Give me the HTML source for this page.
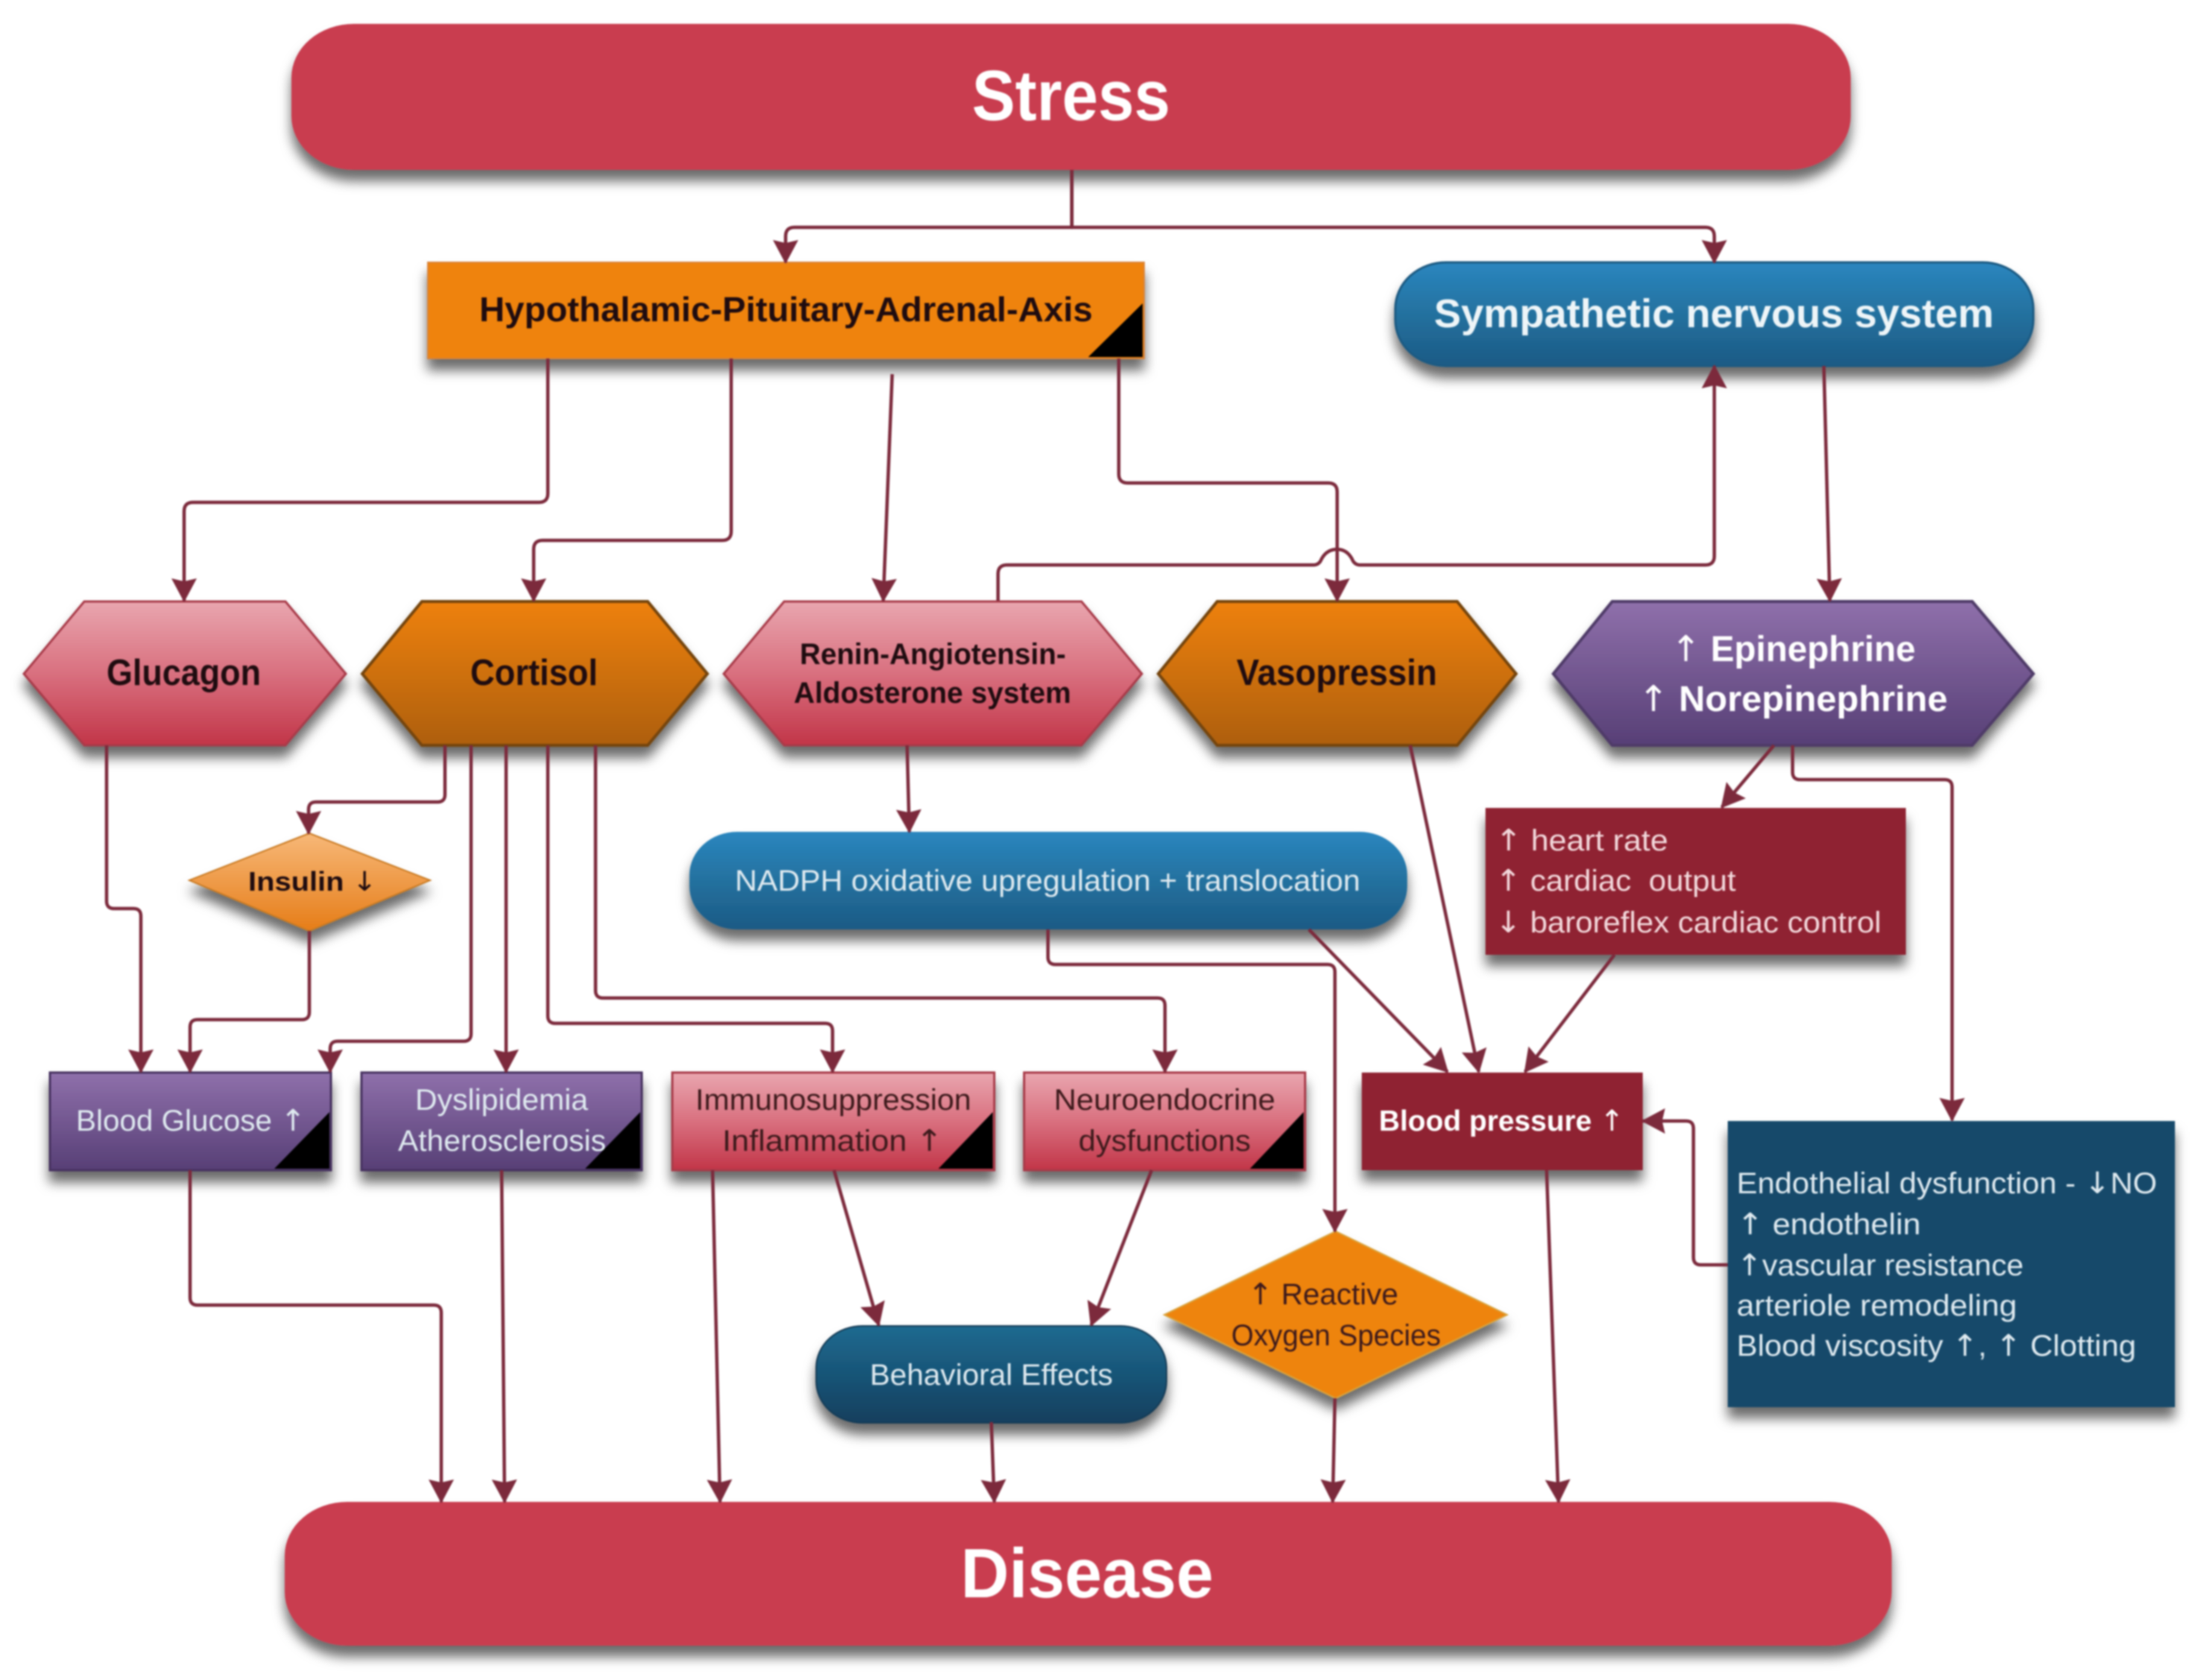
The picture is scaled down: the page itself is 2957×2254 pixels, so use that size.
<!DOCTYPE html>
<html><head><meta charset="utf-8"><title>Stress and Disease</title>
<style>
html,body{margin:0;padding:0;background:#fff;width:2957px;height:2254px;overflow:hidden}
svg{display:block;filter:blur(1.1px)}
text{font-family:"Liberation Sans","DejaVu Sans",sans-serif}
.b{font-weight:bold}
.w{fill:#fff}
.l{fill:#dfeaf0}
.d{fill:#1f0c10}
.c{fill:#f3d9dc}
.m{fill:#3d1a1c}
.ar{font-family:"DejaVu Sans",sans-serif;font-weight:normal}
</style></head><body>
<svg xmlns="http://www.w3.org/2000/svg" width="2957" height="2254" viewBox="0 0 2957 2254">
<defs>
<filter id="s" x="-10%" y="-20%" width="120%" height="150%"><feDropShadow dx="0" dy="15" stdDeviation="8" flood-color="#000" flood-opacity=".58"/></filter>
<linearGradient id="gBlue" x1="0" y1="0" x2="0" y2="1"><stop offset="0" stop-color="#2a86bf"/><stop offset=".5" stop-color="#24719f"/><stop offset="1" stop-color="#1b5a85"/></linearGradient>
<linearGradient id="gBeh" x1="0" y1="0" x2="0" y2="1"><stop offset="0" stop-color="#1e6a90"/><stop offset="1" stop-color="#123f5e"/></linearGradient>
<linearGradient id="gPink" x1="0" y1="0" x2="0" y2="1"><stop offset="0" stop-color="#e9a6af"/><stop offset=".5" stop-color="#d9707f"/><stop offset="1" stop-color="#c23548"/></linearGradient>
<linearGradient id="gOr" x1="0" y1="0" x2="0" y2="1"><stop offset="0" stop-color="#ee8110"/><stop offset="1" stop-color="#ae5f08"/></linearGradient>
<linearGradient id="gPur" x1="0" y1="0" x2="0" y2="1"><stop offset="0" stop-color="#8f70ab"/><stop offset="1" stop-color="#573f76"/></linearGradient>
<linearGradient id="gIns" x1="0" y1="0" x2="0" y2="1"><stop offset="0" stop-color="#f7b878"/><stop offset="1" stop-color="#e67d18"/></linearGradient>
<marker id="a" markerUnits="userSpaceOnUse" markerWidth="40" markerHeight="40" refX="30" refY="17" orient="auto"><path d="M0 0 L32 17 L0 34 L4 17 Z" fill="#7c2a3c"/></marker>
</defs>

<!-- main shapes -->
<g filter="url(#s)">
<rect x="391" y="32" width="2092" height="196" rx="84" ry="72" fill="#c93c50"/>
<rect x="382" y="2015" width="2156" height="193" rx="84" ry="72" fill="#c93c50"/>
<rect x="574" y="352" width="961" height="129" fill="#ef830f" stroke="#d9843a" stroke-width="2"/>
<rect x="1872" y="352" width="856" height="139" rx="68" ry="62" fill="url(#gBlue)" stroke="#1d5a82" stroke-width="3"/>
<polygon points="32,904 113,807 383,807 464,904 383,1000 113,1000" fill="url(#gPink)" stroke="#a83a4a" stroke-width="3"/>
<polygon points="486,904 566,807 869,807 949,904 869,1000 566,1000" fill="url(#gOr)" stroke="#74440c" stroke-width="4"/>
<polygon points="971,904 1052,807 1451,807 1532,904 1451,1000 1052,1000" fill="url(#gPink)" stroke="#a83a4a" stroke-width="3"/>
<polygon points="1554,904 1633,807 1955,807 2034,904 1955,1000 1633,1000" fill="url(#gOr)" stroke="#74440c" stroke-width="4"/>
<polygon points="2084,904 2163,807 2646,807 2728,904 2646,1000 2163,1000" fill="url(#gPur)" stroke="#4f3a68" stroke-width="4"/>
<polygon points="254,1181 415,1118 577,1181 415,1249" fill="url(#gIns)" stroke="#c97a20" stroke-width="2"/>
<rect x="925" y="1116" width="963" height="131" rx="64" ry="58" fill="url(#gBlue)"/>
<rect x="1993" y="1084" width="564" height="197" fill="#8f2333"/>
<rect x="67" y="1439" width="377" height="131" fill="url(#gPur)" stroke="#463360" stroke-width="3"/>
<rect x="485" y="1439" width="376" height="131" fill="url(#gPur)" stroke="#463360" stroke-width="3"/>
<rect x="902" y="1439" width="432" height="131" fill="url(#gPink)" stroke="#a83a4a" stroke-width="3"/>
<rect x="1374" y="1439" width="377" height="131" fill="url(#gPink)" stroke="#a83a4a" stroke-width="3"/>
<rect x="1827" y="1439" width="377" height="131" fill="#8f2333"/>
<rect x="2318" y="1504" width="600" height="384" fill="#17496a"/>
<rect x="1095" y="1779" width="470" height="130" rx="62" ry="56" fill="url(#gBeh)" stroke="#123a55" stroke-width="2"/>
<polygon points="1562,1764 1792,1652 2022,1764 1792,1876" fill="#ee8410" stroke="#d9a23a" stroke-width="2"/>
</g>

<!-- black corners -->
<polygon points="1460,479 1533,407 1533,479" fill="#000"/>
<polygon points="368,1568 442,1492 442,1568" fill="#000"/>
<polygon points="785,1568 859,1492 859,1568" fill="#000"/>
<polygon points="1259,1568 1332,1492 1332,1568" fill="#000"/>
<polygon points="1677,1568 1749,1492 1749,1568" fill="#000"/>

<!-- connectors -->
<g fill="none" stroke="#7c2a3c" stroke-width="4.5" stroke-linejoin="round">
<path d="M1438 228 V305 H1066 Q1054 305 1054 317 V352" marker-end="url(#a)"/>
<path d="M1438 228 V305 H2288 Q2300 305 2300 317 V352" marker-end="url(#a)"/>
<path d="M735 481 V662 Q735 674 723 674 H259 Q247 674 247 686 V806" marker-end="url(#a)"/>
<path d="M981 481 V713 Q981 725 969 725 H728 Q716 725 716 737 V806" marker-end="url(#a)"/>
<path d="M1197 502 L1185 806" marker-end="url(#a)"/>
<path d="M1501 481 V636 Q1501 648 1513 648 H1782 Q1794 648 1794 660 V806" marker-end="url(#a)"/>
<path d="M1339 806 V770 Q1339 758 1351 758 H1762 Q1770 758 1773 750 Q1780 737 1794 737 Q1807 737 1814 750 Q1817 758 1825 758 H2288 Q2300 758 2300 746 V491" marker-end="url(#a)"/>
<path d="M2447 491 L2455 806" marker-end="url(#a)"/>
<path d="M143 1000 V1209 Q143 1219 153 1219 H179 Q189 1219 189 1229 V1438" marker-end="url(#a)"/>
<path d="M597 1000 V1066 Q597 1076 587 1076 H424 Q414 1076 414 1086 V1118" marker-end="url(#a)"/>
<path d="M415 1249 V1358 Q415 1368 405 1368 H265 Q255 1368 255 1378 V1438" marker-end="url(#a)"/>
<path d="M632 1000 V1387 Q632 1397 622 1397 H453 Q443 1397 443 1407 V1438" marker-end="url(#a)"/>
<path d="M679 1000 V1438" marker-end="url(#a)"/>
<path d="M735 1000 V1363 Q735 1373 745 1373 H1107 Q1117 1373 1117 1383 V1438" marker-end="url(#a)"/>
<path d="M799 1000 V1329 Q799 1339 809 1339 H1553 Q1563 1339 1563 1349 V1438" marker-end="url(#a)"/>
<path d="M1217 1000 L1220 1116" marker-end="url(#a)"/>
<path d="M1406 1247 V1284 Q1406 1294 1416 1294 H1781 Q1791 1294 1791 1304 V1652" marker-end="url(#a)"/>
<path d="M1756 1247 L1942 1438" marker-end="url(#a)"/>
<path d="M1892 1000 L1984 1438" marker-end="url(#a)"/>
<path d="M2380 1000 L2310 1083" marker-end="url(#a)"/>
<path d="M2405 1000 V1036 Q2405 1046 2415 1046 H2609 Q2619 1046 2619 1056 V1503" marker-end="url(#a)"/>
<path d="M2166 1281 L2046 1438" marker-end="url(#a)"/>
<path d="M2318 1697 H2282 Q2272 1697 2272 1687 V1514 Q2272 1504 2262 1504 H2204" marker-end="url(#a)"/>
<path d="M255 1570 V1741 Q255 1751 265 1751 H582 Q592 1751 592 1761 V2015" marker-end="url(#a)"/>
<path d="M673 1570 L677 2015" marker-end="url(#a)"/>
<path d="M956 1570 L966 2015" marker-end="url(#a)"/>
<path d="M1119 1570 L1179 1778" marker-end="url(#a)"/>
<path d="M1545 1570 L1464 1778" marker-end="url(#a)"/>
<path d="M1330 1908 L1334 2015" marker-end="url(#a)"/>
<path d="M1791 1876 L1788 2015" marker-end="url(#a)"/>
<path d="M2075 1570 L2091 2015" marker-end="url(#a)"/>
</g>

<!-- labels -->
<g>
<text class="b w" x="1304" y="161" font-size="96" textLength="266" lengthAdjust="spacingAndGlyphs">Stress</text>
<text class="b w" x="1289" y="2143" font-size="94" textLength="339" lengthAdjust="spacingAndGlyphs">Disease</text>
<text class="b d" x="643" y="431" font-size="46" textLength="823" lengthAdjust="spacingAndGlyphs">Hypothalamic-Pituitary-Adrenal-Axis</text>
<text class="b" fill="#eef5f8" x="1924" y="439" font-size="54" textLength="751" lengthAdjust="spacingAndGlyphs">Sympathetic nervous system</text>
<text class="b d" x="143" y="919" font-size="49" textLength="207" lengthAdjust="spacingAndGlyphs">Glucagon</text>
<text class="b d" x="631" y="919" font-size="49" textLength="171" lengthAdjust="spacingAndGlyphs">Cortisol</text>
<text class="b d" x="1073" y="891" font-size="40" textLength="357" lengthAdjust="spacingAndGlyphs">Renin-Angiotensin-</text>
<text class="b d" x="1065" y="943" font-size="40" textLength="372" lengthAdjust="spacingAndGlyphs">Aldosterone system</text>
<text class="b d" x="1659" y="919" font-size="49" textLength="269" lengthAdjust="spacingAndGlyphs">Vasopressin</text>
<text class="b w" x="2242" y="887" font-size="48" textLength="328" lengthAdjust="spacingAndGlyphs"><tspan class="ar">↑</tspan> Epinephrine</text>
<text class="b w" x="2198" y="954" font-size="48" textLength="415" lengthAdjust="spacingAndGlyphs"><tspan class="ar">↑</tspan> Norepinephrine</text>
<text class="b d" x="333" y="1195" font-size="36" textLength="173" lengthAdjust="spacingAndGlyphs">Insulin <tspan class="ar">↓</tspan></text>
<text class="l" x="986" y="1195" font-size="40" textLength="839" lengthAdjust="spacingAndGlyphs">NADPH oxidative upregulation + translocation</text>
<text class="c" x="2006" y="1141" font-size="40" textLength="232" lengthAdjust="spacingAndGlyphs"><tspan class="ar">↑</tspan> heart rate</text>
<text class="c" x="2006" y="1195" font-size="40" textLength="323" lengthAdjust="spacingAndGlyphs" xml:space="preserve"><tspan class="ar">↑</tspan> cardiac  output</text>
<text class="c" x="2006" y="1251" font-size="40" textLength="518" lengthAdjust="spacingAndGlyphs"><tspan class="ar">↓</tspan> baroreflex cardiac control</text>
<text class="l" x="102" y="1517" font-size="40" textLength="308" lengthAdjust="spacingAndGlyphs">Blood Glucose <tspan class="ar">↑</tspan></text>
<text class="l" x="557" y="1489" font-size="40" textLength="232" lengthAdjust="spacingAndGlyphs">Dyslipidemia</text>
<text class="l" x="534" y="1544" font-size="40" textLength="279" lengthAdjust="spacingAndGlyphs">Atherosclerosis</text>
<text class="m" x="933" y="1489" font-size="40" textLength="370" lengthAdjust="spacingAndGlyphs">Immunosuppression</text>
<text class="m" x="969" y="1544" font-size="40" textLength="296" lengthAdjust="spacingAndGlyphs">Inflammation <tspan class="ar">↑</tspan></text>
<text class="m" x="1414" y="1489" font-size="40" textLength="297" lengthAdjust="spacingAndGlyphs">Neuroendocrine</text>
<text class="m" x="1447" y="1544" font-size="40" textLength="231" lengthAdjust="spacingAndGlyphs">dysfunctions</text>
<text class="b w" x="1850" y="1517" font-size="39" textLength="329" lengthAdjust="spacingAndGlyphs">Blood pressure <tspan class="ar">↑</tspan></text>
<text class="l" x="2330" y="1601" font-size="40" textLength="564" lengthAdjust="spacingAndGlyphs">Endothelial dysfunction - <tspan class="ar">↓</tspan>NO</text>
<text class="l" x="2330" y="1656" font-size="40" textLength="247" lengthAdjust="spacingAndGlyphs"><tspan class="ar">↑</tspan> endothelin</text>
<text class="l" x="2330" y="1711" font-size="40" textLength="385" lengthAdjust="spacingAndGlyphs"><tspan class="ar">↑</tspan>vascular resistance</text>
<text class="l" x="2330" y="1765" font-size="40" textLength="376" lengthAdjust="spacingAndGlyphs">arteriole remodeling</text>
<text class="l" x="2330" y="1819" font-size="40" textLength="536" lengthAdjust="spacingAndGlyphs">Blood viscosity <tspan class="ar">↑</tspan>, <tspan class="ar">↑</tspan> Clotting</text>
<text class="m" x="1674" y="1750" font-size="40" textLength="202" lengthAdjust="spacingAndGlyphs"><tspan class="ar">↑</tspan> Reactive</text>
<text class="m" x="1652" y="1805" font-size="40" textLength="281" lengthAdjust="spacingAndGlyphs">Oxygen Species</text>
<text class="l" x="1167" y="1858" font-size="40" textLength="326" lengthAdjust="spacingAndGlyphs">Behavioral Effects</text>
</g>
</svg>
</body></html>
